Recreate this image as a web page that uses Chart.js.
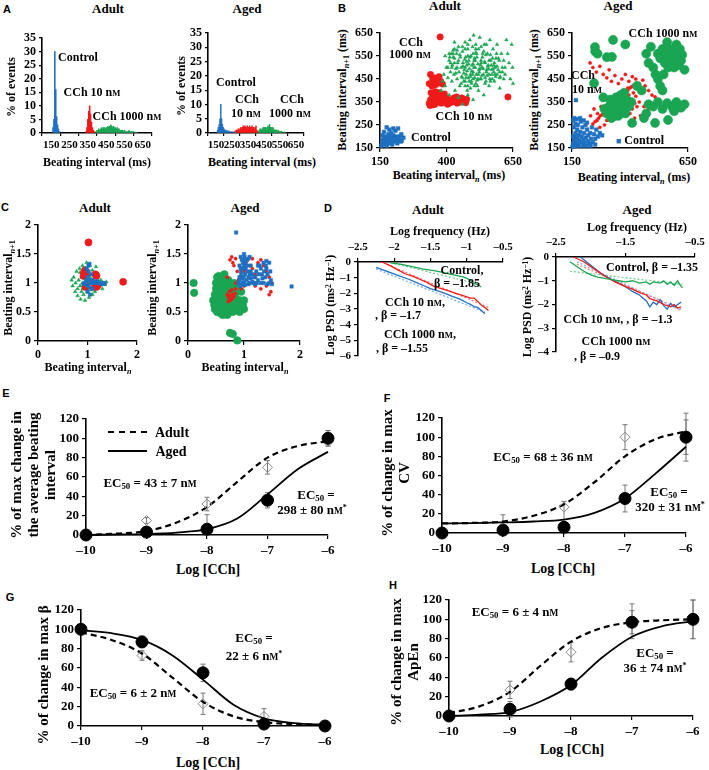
<!DOCTYPE html>
<html><head><meta charset="utf-8">
<script src="https://cdn.jsdelivr.net/npm/chart.js@4.4.0/dist/chart.umd.min.js"></script>
<style>
body{margin:0;background:#fff;}
#fig{position:relative;width:709px;height:770px;overflow:hidden;font-family:'Liberation Serif',serif;font-weight:bold;color:#000;}
canvas{position:absolute;}
.t{position:absolute;transform:translate(-50%,-50%);white-space:nowrap;line-height:1.1;text-align:center;}
.r{position:absolute;transform:translate(-50%,-50%) rotate(-90deg);white-space:nowrap;line-height:1.12;text-align:center;}
.L{position:absolute;font-family:'Liberation Sans',Arial,sans-serif;font-weight:bold;font-size:11px;transform:translate(-50%,-50%);}
.sc{font-size:0.72em;}
sub{font-size:0.68em;vertical-align:-0.28em;line-height:0;}
sup{font-size:0.62em;vertical-align:0.5em;line-height:0;}
i{font-style:italic;}
</style></head>
<body><div id="fig">
<!-- panel letters -->
<div class="L" style="left:7px;top:9px">A</div>
<div class="L" style="left:342px;top:8px">B</div>
<div class="L" style="left:5px;top:207px">C</div>
<div class="L" style="left:328px;top:208px">D</div>
<div class="L" style="left:6px;top:393px">E</div>
<div class="L" style="left:387px;top:398px">F</div>
<div class="L" style="left:10px;top:597px">G</div>
<div class="L" style="left:393px;top:585px">H</div>
<!-- titles -->
<div class="t" style="left:108px;top:9px;font-size:13px">Adult</div>
<div class="t" style="left:247px;top:9px;font-size:13px">Aged</div>
<div class="t" style="left:445px;top:6px;font-size:13px">Adult</div>
<div class="t" style="left:618px;top:6px;font-size:13px">Aged</div>
<div class="t" style="left:95px;top:208px;font-size:13px">Adult</div>
<div class="t" style="left:245px;top:208px;font-size:13px">Aged</div>
<div class="t" style="left:428px;top:210px;font-size:13px">Adult</div>
<div class="t" style="left:637px;top:210px;font-size:13px">Aged</div>
<!-- A -->
<div class="r" style="left:12px;top:87px;font-size:12px">% of events</div>
<div class="r" style="left:182px;top:86px;font-size:12px">% of events</div>
<div class="t" style="left:97px;top:163px;font-size:12px">Beating interval (ms)</div>
<div class="t" style="left:262px;top:163px;font-size:12px">Beating interval (ms)</div>
<div class="t" style="left:78px;top:58px;font-size:12px">Control</div>
<div class="t" style="left:92px;top:93px;font-size:12px">CCh 10 n<span class="sc">M</span></div>
<div class="t" style="left:127px;top:117px;font-size:12px">CCh 1000 n<span class="sc">M</span></div>
<div class="t" style="left:236px;top:83px;font-size:12px">Control</div>
<div class="t" style="left:247px;top:100px;font-size:12px">CCh</div>
<div class="t" style="left:246px;top:114px;font-size:12px">10 n<span class="sc">M</span></div>
<div class="t" style="left:292px;top:100px;font-size:12px">CCh</div>
<div class="t" style="left:290px;top:114px;font-size:12px">1000 n<span class="sc">M</span></div>
<!-- B -->
<div class="r" style="left:343px;top:90px;font-size:12px">Beating interval<sub><i>n</i>+1</sub> (ms)</div>
<div class="r" style="left:535px;top:90px;font-size:12px">Beating interval<sub><i>n</i>+1</sub> (ms)</div>
<div class="t" style="left:449px;top:176px;font-size:12px">Beating interval<sub><i>n</i></sub> (ms)</div>
<div class="t" style="left:634px;top:178px;font-size:12px">Beating interval<sub><i>n</i></sub> (ms)</div>
<div class="t" style="left:411px;top:43px;font-size:12px">CCh</div>
<div class="t" style="left:410px;top:55px;font-size:12px">1000 n<span class="sc">M</span></div>
<div class="t" style="left:464px;top:117px;font-size:12px">CCh 10 n<span class="sc">M</span></div>
<div class="t" style="left:431px;top:138px;font-size:12px">Control</div>
<div class="t" style="left:663px;top:34px;font-size:12px">CCh 1000 n<span class="sc">M</span></div>
<div class="t" style="left:583px;top:76px;font-size:12px">CCh</div>
<div class="t" style="left:587px;top:90px;font-size:12px">10 n<span class="sc">M</span></div>
<div class="t" style="left:640px;top:141px;font-size:12px"><span style="color:#1f70c1;font-size:9px">■</span> Control</div>
<!-- C -->
<div class="r" style="left:9px;top:288px;font-size:12px">Beating interval<sub><i>n</i>+1</sub></div>
<div class="r" style="left:153px;top:288px;font-size:12px">Beating interval<sub><i>n</i>+1</sub></div>
<div class="t" style="left:88px;top:368px;font-size:12px">Beating interval<sub><i>n</i></sub></div>
<div class="t" style="left:245px;top:368px;font-size:12px">Beating interval<sub><i>n</i></sub></div>
<!-- D -->
<div class="t" style="left:440px;top:232px;font-size:12px">Log frequency (Hz)</div>
<div class="t" style="left:637px;top:228px;font-size:12px">Log frequency (Hz)</div>
<div class="r" style="left:331px;top:305px;font-size:12px">Log PSD (ms<sup>2</sup> Hz<sup>−1</sup>)</div>
<div class="r" style="left:528px;top:307px;font-size:12px">Log PSD (ms<sup>2</sup> Hz<sup>−1</sup>)</div>
<div class="t" style="left:462px;top:271px;font-size:12px">Control,</div>
<div class="t" style="left:457px;top:284px;font-size:12px">β = –1.85</div>
<div class="t" style="left:415px;top:303px;font-size:12px">CCh 10 n<span class="sc">M</span>,</div>
<div class="t" style="left:398px;top:316px;font-size:12px">, β = –1.7</div>
<div class="t" style="left:420px;top:335px;font-size:12px">CCh 1000 n<span class="sc">M</span>,</div>
<div class="t" style="left:402px;top:349px;font-size:12px">, β = –1.55</div>
<div class="t" style="left:652px;top:268px;font-size:12px">Control, β = –1.35</div>
<div class="t" style="left:618px;top:320px;font-size:12px">CCh 10 n<span class="sc">M</span>, , β = –1.3</div>
<div class="t" style="left:616px;top:342px;font-size:12px">CCh 1000 n<span class="sc">M</span></div>
<div class="t" style="left:597px;top:357px;font-size:12px">, β = –0.9</div>
<!-- E -->
<div class="r" style="left:33px;top:475px;font-size:15px">% of max change in<br>the average beating<br>interval</div>
<div class="t" style="left:208px;top:570px;font-size:14px">Log [CCh]</div>
<div style="position:absolute;left:108px;top:431px;width:39px;border-top:2.5px dashed #000"></div>
<div style="position:absolute;left:108px;top:450px;width:39px;border-top:2px solid #000"></div>
<div class="t" style="left:172px;top:433px;font-size:14px">Adult</div>
<div class="t" style="left:171px;top:452px;font-size:14px">Aged</div>
<div class="t" style="left:150px;top:483px;font-size:13px">EC<sub>50</sub> = 43 ± 7 n<span class="sc">M</span></div>
<div class="t" style="left:316px;top:495px;font-size:13px">EC<sub>50</sub> =</div>
<div class="t" style="left:312px;top:510px;font-size:13px">298 ± 80 n<span class="sc">M</span><sup>*</sup></div>
<!-- F -->
<div class="r" style="left:396px;top:473px;font-size:15px">% of change in max<br>CV</div>
<div class="t" style="left:563px;top:569px;font-size:14px">Log [CCh]</div>
<div class="t" style="left:543px;top:457px;font-size:13px">EC<sub>50</sub> = 68 ± 36 n<span class="sc">M</span></div>
<div class="t" style="left:669px;top:492px;font-size:13px">EC<sub>50</sub> =</div>
<div class="t" style="left:670px;top:507px;font-size:13px">320 ± 31 n<span class="sc">M</span><sup>*</sup></div>
<!-- G -->
<div class="r" style="left:43px;top:675px;font-size:15px">% of change in max β</div>
<div class="t" style="left:208px;top:763px;font-size:14px">Log [CCh]</div>
<div class="t" style="left:254px;top:638px;font-size:13px">EC<sub>50</sub> =</div>
<div class="t" style="left:254px;top:656px;font-size:13px">22 ± 6 n<span class="sc">M</span><sup>*</sup></div>
<div class="t" style="left:133px;top:693px;font-size:13px">EC<sub>50</sub> = 6 ± 2 n<span class="sc">M</span></div>
<!-- H -->
<div class="r" style="left:405px;top:662px;font-size:15px">% of change in max<br>ApEn</div>
<div class="t" style="left:572px;top:750px;font-size:14px">Log [CCh]</div>
<div class="t" style="left:515px;top:612px;font-size:13px">EC<sub>50</sub> = 6 ± 4 n<span class="sc">M</span></div>
<div class="t" style="left:655px;top:653px;font-size:13px">EC<sub>50</sub> =</div>
<div class="t" style="left:655px;top:668px;font-size:13px">36 ± 74 n<span class="sc">M</span><sup>*</sup></div>
</div>
<script>
// ---------- DATA ----------
const BLUE='#1f70c1', RED='#f01a1a', GREEN='#1aa552', LBLUE='#8fb8e8';
// A: histograms (bin centre ms, % of events)
const aAdultCtrlX=[160,165,170,175,180,185,190,195];
const aAdultCtrlY=[2,5,30,16,6,3,1.5,0.5];
const aAdult10X=[340,345,350,355,360,365,370,375,380,385];
const aAdult10Y=[0.5,2,5,8,10,7,4,2,1,0.5];
const aAdult1000X=[395,400,405,410,415,420,425,430,435,440,445,450,455,460,465,470,475,480,485,490,495,500,505,510,515,520,525,530,535,540,545,550,555,560,565,570,575,580,585,590,595,600,610,620];
const aAdult1000Y=[0.5,1,1,1.5,1,1.5,2,1.5,2,2,1.5,2,2,2.5,2,2.5,3,2.5,2,2.5,2,2,1.5,2,1.5,1.5,1,1,1,1,0.5,1,0.5,0.5,0.5,0.5,1,0.5,0.5,0.5,0.5,0.5,0.3,0.3];
const aAgedCtrlX=[160,165,170,175,180,185,190,195,200,205,210,215,220,225,230,240,250,260,270];
const aAgedCtrlY=[1,2,3,5,10,5,3,2,1.5,1,1,0.8,0.8,0.5,0.8,0.5,0.5,0.3,0.3];
const aAged10X=[265,270,275,280,285,290,295,300,305,310,315,320,325,330,335,340,345,350,355,360,365,370,375,380,385,390,395,400,405,410];
const aAged10Y=[0.5,0.5,1,1,1,1.5,1,1.5,2,1.5,2,2.5,2,2.5,2,2,2.5,2,2,2.5,2,2,2.5,2,2,1.5,2,2.5,1,0.5];
const aAged1000X=[415,420,425,430,435,440,445,450,455,460,465,470,475,480,485,490,495,500,505,510,515,520,525,530,535,540,545,550,555,560,570,580];
const aAged1000Y=[0.5,1,1.5,1.5,1,1.5,2,1.5,2,2,1.5,2,2.5,2,3,2,2,1.5,2,1.5,1,1,1,1,0.5,1,0.5,0.5,0.5,0.5,0.3,0.3];
// B: Poincaré plots (x=interval n, y=interval n+1), flat x,y lists
const bAdultCtrl=[155,160,158,175,160,185,162,170,165,180,166,195,168,165,170,175,170,190,172,182,174,200,175,170,176,160,178,185,180,178,180,195,182,210,184,170,186,188,188,200,190,180,192,215,195,190,198,175,200,205,203,185,205,195,208,225,210,180,212,200,215,190,218,235,220,185,225,200,228,178,232,182,238,195,185,230,175,240,165,220,160,205,200,235,196,165,215,170,230,210];
const bAdult10=[376,633,631,372,335,345,340,360,345,350,348,372,352,385,356,340,360,362,364,378,368,350,372,390,376,360,380,345,384,372,388,355,392,385,396,348,400,365,342,390,358,395,404,340,338,335,350,338,345,420,350,440,355,455,358,425,362,445,368,432,372,460,378,440,385,428,348,452,340,470,335,430,415,360,422,350,428,368,435,355,440,345,446,362,452,350,458,368,465,355,472,347,476,362,438,372,410,345];
const bAdult1000=[380,400,385,440,390,470,395,420,400,500,405,455,410,380,410,530,415,480,418,560,420,440,422,510,425,575,428,470,430,540,432,400,435,495,438,560,440,450,442,520,445,590,447,480,450,420,452,545,455,500,457,460,460,570,462,520,465,440,467,490,470,610,472,545,474,470,476,510,478,400,480,580,482,455,484,530,486,495,488,620,490,470,492,550,494,430,496,510,498,590,500,480,502,640,504,530,506,455,508,500,510,600,512,470,514,545,516,420,518,515,520,580,522,490,525,630,527,450,530,530,533,500,536,560,539,470,542,600,545,520,548,440,551,490,554,560,557,510,560,470,563,620,566,530,569,490,572,450,575,580,578,510,582,470,586,540,590,600,594,490,598,530,602,460,606,560,610,500,615,530,620,470,625,620,630,560,635,520,640,450,645,600,648,500,650,430,460,340,500,360,540,380,480,380,445,370,405,500,395,550,430,610,520,400,560,420,600,410,
455,430,460,455,465,475,470,500,475,525,480,550,485,440,490,460,495,485,500,515,505,540,510,565,515,445,520,470,525,495,530,520,535,545,540,570,545,455,550,480,555,505,560,530,565,555,570,470,575,495,580,520,585,460,590,505,595,540,600,480,462,505,468,535,473,455,478,485,483,515,488,545,493,440,498,470,503,500,508,530,513,560,518,450,523,480,528,510,533,465,538,495,543,525,548,555,553,465,558,495,563,450,568,510,573,540,578,480,583,500,588,560,440,500,445,530,450,555,435,475,430,520,425,545,420,500,415,520,410,560,412,545,425,560,430,580,440,575,460,590,470,580,480,600,500,560,510,580,530,590,550,600,500,450,510,430,530,450,545,430,565,440,580,440,600,455,610,480,620,500,615,450,590,470,470,420,480,420,490,410,505,420,470,440];
const bAgedCtrl=[152,155,155,170,158,160,160,185,162,200,165,175,165,215,168,160,170,190,172,230,175,170,175,250,178,205,180,160,182,185,185,220,188,265,190,175,192,200,195,240,198,160,200,185,202,215,205,170,208,250,210,195,212,160,215,230,218,180,220,205,225,170,228,215,232,190,236,240,240,175,245,210,250,190,255,230,262,200,270,215,280,205,158,240,155,270,160,280,170,275,165,255,185,280,200,270,215,260,167,358,230,160,250,165,155,200];
const bAged10=[240,255,250,265,258,270,265,280,272,290,280,295,288,305,295,300,300,315,308,320,315,330,322,340,330,345,338,355,345,360,352,370,360,375,368,385,375,390,382,395,390,400,398,410,405,415,412,420,420,415,350,320,360,330,370,318,380,340,390,325,400,335,410,320,420,345,355,350,365,365,375,355,385,370,395,380,405,360,415,390,425,375,370,400,390,410,345,335,400,300,380,305,430,330,440,350,228,520,240,500,255,480,270,505,285,470,300,455,310,490,320,440,335,465,350,430,365,450,380,470,395,440,410,460,425,450,440,430,455,445,465,420,480,400,495,380,508,372,478,315,460,330,445,290,420,280,300,270,290,250,270,240,320,280,260,300,230,290,245,320,275,330];
const bAged1000=[520,560,530,540,540,580,550,520,555,560,560,590,565,500,570,545,575,575,580,520,585,555,590,500,595,585,600,540,605,565,610,510,615,580,620,530,625,555,635,490,500,500,510,470,520,450,530,420,540,400,545,470,480,520,470,560,490,590,600,600,560,610,300,300,310,330,320,280,325,350,330,310,340,370,345,330,350,290,355,350,360,380,365,320,370,345,380,300,385,360,395,330,405,350,315,360,335,290,375,390,290,320,249,589,327,620,322,546,250,570,260,560,245,432,300,545,380,600,480,340,500,330,520,350,540,320,560,345,580,330,600,350,620,325,635,340,590,310,409,259,508,259,564,272,460,280,430,420,450,400,285,370,470,300];
// C: normalised Poincaré plots
const cAdultCtrl=[0.95,1.0,0.97,1.05,1.0,1.1,1.0,0.95,1.02,1.2,1.02,1.3,1.03,1.0,1.05,1.05,1.05,0.92,1.07,1.15,1.08,1.0,1.1,1.05,1.12,1.0,1.15,1.02,1.18,1.0,1.2,1.03,1.25,1.0,1.28,0.98,1.32,1.0,1.35,0.99,0.98,1.25,1.04,1.33,0.92,0.98,1.0,0.85,1.05,0.8,1.1,0.9];
const cAdult10=[1.02,1.7,1.72,1.02,0.93,1.18,0.95,1.22,0.97,1.15,0.92,1.12,1.16,1.15,1.18,1.12,1.15,0.97,1.17,0.93,1.2,0.95,0.96,0.93,0.98,0.97];
const cAdult1000=[0.68,1.05,0.7,0.95,0.72,1.1,0.75,0.85,0.76,1.0,0.78,1.2,0.8,0.9,0.8,0.78,0.82,1.05,0.84,1.25,0.85,0.95,0.86,0.72,0.88,1.1,0.88,0.85,0.9,1.3,0.9,1.0,0.92,0.8,0.93,1.15,0.95,0.92,0.95,0.7,0.97,1.05,0.98,1.35,1.0,0.85,1.0,1.2,1.02,0.95,1.03,0.75,1.05,1.1,1.05,1.3,1.07,0.88,1.08,1.0,1.1,1.22,1.1,0.8,1.12,0.95,1.14,1.1,1.15,0.85,1.17,1.28,1.18,1.0,1.2,0.9,1.22,1.15,1.25,0.95,1.27,1.05,1.3,0.9,1.32,1.0,1.35,0.97,1.38,1.02,0.85,1.18,0.95,1.25,1.0,1.05,1.12,1.05,0.9,0.9];
const cAgedCtrl=[0.86,1.87,1.85,0.94,0.9,1.0,0.92,1.1,0.92,1.3,0.94,1.45,0.95,1.2,0.97,1.0,0.98,1.35,1.0,1.5,1.0,1.1,1.02,0.97,1.03,1.25,1.05,1.4,1.05,1.05,1.08,0.98,1.1,1.15,1.12,1.3,1.15,1.02,1.18,1.1,1.2,0.98,1.22,1.2,1.25,1.05,1.28,1.3,1.3,1.0,1.32,1.15,1.35,1.35,1.38,1.1,1.4,1.25,1.42,0.98,1.45,1.35,1.48,1.05,1.5,0.98,0.96,0.96,1.0,1.3,1.1,1.45,0.93,0.95,1.35,1.0,
0.92,1.05,0.95,1.15,0.97,1.25,0.99,1.4,1.01,1.45,1.03,1.35,1.06,1.2,1.08,1.1,1.1,1.0,1.12,1.08,1.15,1.15,1.17,1.0,1.2,1.1,1.23,1.0,1.26,1.15,1.3,1.25,1.33,1.08,1.36,1.2,1.39,1.3,1.42,1.15,1.45,1.0,1.0,1.02,0.98,1.08,0.94,1.25,0.96,1.4,1.02,1.15,1.05,1.3,1.08,1.42,1.12,1.2,1.25,1.3,1.4,1.38,1.47,1.2];
const cAged10=[0.7,0.8,0.72,0.75,0.74,0.85,0.76,0.78,0.78,0.72,0.8,0.8,0.82,0.76,0.84,0.82,0.78,0.88,0.75,0.7,0.72,0.68,0.85,0.9,0.75,1.4,0.78,1.45,0.8,1.35,0.82,1.3,0.85,1.42,0.88,1.2,0.9,1.05,0.95,1.1,1.0,1.2,1.05,1.38,1.1,1.3,1.15,1.25,1.2,1.15,1.25,1.35,1.3,1.4,1.35,1.3,1.4,1.2,1.45,1.1,1.5,1.0,1.48,0.85,1.4,0.95,1.3,0.9,1.2,0.95,1.1,1.0,1.0,0.95,0.95,0.9,1.45,0.8,0.85,1.0,0.7,1.1,1.15,1.42];
const cAged1000=[0.1,1.0,0.11,0.83,0.75,0.14,0.8,0.12,0.88,0.01,0.45,0.7,0.48,0.55,0.5,0.9,0.52,1.1,0.55,0.6,0.55,0.8,0.58,0.48,0.6,1.0,0.6,0.65,0.63,0.75,0.65,0.5,0.65,1.15,0.68,0.9,0.7,0.6,0.72,1.05,0.75,0.7,0.75,0.5,0.78,0.85,0.8,0.62,0.82,1.0,0.85,0.55,0.85,0.75,0.88,0.95,0.9,0.65,0.92,0.5,0.95,0.85,0.98,0.62,0.5,1.0,0.55,1.12,0.62,0.45,0.7,0.45,0.8,0.5,1.0,0.7,1.0,0.55,0.58,0.95,0.67,0.98,0.48,0.8,0.72,0.8,
0.47,0.62,0.5,0.75,0.53,0.95,0.55,1.05,0.57,0.55,0.6,0.85,0.62,0.58,0.64,1.08,0.66,0.7,0.68,0.5,0.7,0.95,0.73,0.6,0.77,0.95,0.8,0.7,0.83,0.62,0.87,0.85,0.9,0.55,0.93,0.7,0.96,0.62,0.58,0.7,0.52,0.5,0.62,0.9];
// D: log PSD vs log frequency
const dAdultCtrl=[-2.05,-0.05,-1.9,-0.15,-1.75,-0.3,-1.6,-0.45,-1.45,-0.55,-1.35,-0.65,-1.25,-0.75,-1.15,-0.85,-1.05,-0.95,-1.0,-1.05,-0.95,-1.15,-0.9,-1.35,-0.85,-1.45,-0.8,-1.6];
const dAdultCtrlFit=[-2.0,-0.1,-0.85,-1.4];
const dAdult10=[-2.17,0,-2.05,-0.25,-1.95,-0.5,-1.85,-0.75,-1.75,-0.9,-1.65,-1.1,-1.55,-1.3,-1.45,-1.55,-1.35,-1.7,-1.25,-1.85,-1.15,-2.0,-1.05,-2.15,-0.95,-2.3,-0.9,-2.3,-0.85,-2.5,-0.8,-2.75,-0.75,-2.9,-0.7,-3.1];
const dAdult10Fit=[-2.1,-0.15,-0.7,-2.9];
const dAdult1000=[-2.25,-0.35,-2.1,-0.6,-1.95,-0.85,-1.8,-1.1,-1.7,-1.3,-1.6,-1.5,-1.5,-1.7,-1.4,-1.85,-1.3,-2.0,-1.2,-2.2,-1.1,-2.35,-1.0,-2.6,-0.95,-2.7,-0.9,-2.85,-0.85,-2.9,-0.8,-3.1,-0.75,-3.3];
const dAdult1000Fit=[-2.25,-0.45,-0.75,-3.2];
const dAgedCtrl=[-2.3,-0.2,-2.2,-0.4,-2.1,-0.6,-2.0,-0.75,-1.9,-0.85,-1.8,-0.9,-1.7,-0.95,-1.6,-1.0,-1.5,-1.05,-1.4,-1.0,-1.3,-1.1,-1.2,-1.05,-1.15,-1.15,-1.1,-1.05,-1.0,-1.1,-0.95,-1.0,-0.9,-1.15,-0.85,-1.05,-0.8,-1.2,-0.75,-1.0,-0.72,-1.15,-0.68,-1.3];
const dAgedCtrlFit=[-2.3,-0.6,-0.68,-1.15];
const dAged10=[-2.25,0,-2.1,-0.2,-1.95,-0.5,-1.8,-0.8,-1.65,-1.05,-1.5,-1.25,-1.4,-1.35,-1.3,-1.5,-1.2,-1.6,-1.15,-1.75,-1.05,-1.85,-0.95,-2.0,-0.9,-2.05,-0.85,-2.1,-0.8,-2.0,-0.75,-2.15,-0.7,-2.1];
const dAged10Fit=[-2.2,-0.3,-0.7,-2.2];
const dAged1000=[-2.15,0,-2.0,-0.35,-1.85,-0.7,-1.7,-0.95,-1.6,-1.1,-1.5,-1.25,-1.4,-1.45,-1.3,-1.6,-1.2,-1.85,-1.15,-2.1,-1.1,-1.9,-1.05,-2.0,-1.0,-1.8,-0.95,-2.05,-0.9,-2.2,-0.85,-1.95,-0.8,-2.1,-0.75,-2.0,-0.7,-1.9];
const dAged1000Fit=[-2.2,-0.2,-0.7,-2.25];
// E-H: concentration-response
const logC=[-10,-9,-8,-7,-6];
const curveX=[-10,-9.5,-9,-8.5,-8,-7.5,-7,-6.5,-6];
const eAdultCurve=[0,1.5,4,13,29,55,80,92,97];
const eAgedCurve=[0,0.5,1,2.5,6,17,42,68,86];
const eAdultPts=[0,15,32,70,100], eAdultErr=[[0,0],[3,3],[7,7],[7,7],[8,8]];
const eAgedPts=[0,3,6,36,100], eAgedErr=[[0,0],[2,2],[0,15],[8,8],[8,8]];
const fAdultCurve=[10,10.5,12,18,30,53,80,98,106];
const fAgedCurve=[10,10.3,11,12,14,21,36,62,90];
const fAdultPts=[0,4,27,100,100], fAdultErr=[[0,0],[4,15],[27,6],[13,13],[18,18]];
const fAgedPts=[0,3,6,36,100], fAgedErr=[[0,0],[2,2],[2,2],[14,14],[25,25]];
const gAdultCurve=[97,89,75,50,25,10,4,2,1];
const gAgedCurve=[99,96,89,73,48,22,8,3,1];
const gAdultPts=[100,73,23,10,1], gAdultErr=[[0,0],[5,5],[11,11],[8,8],[1,4]];
const gAgedPts=[100,87,55,2,0], gAgedErr=[[0,0],[6,6],[9,9],[2,2],[0,4]];
const hAdultCurve=[3,10,25,52,77,91,97,99,100];
const hAgedCurve=[0,1.5,4,15,32,60,82,93,98];
const hAdultPts=[0,27,66,98,100], hAdultErr=[[0,0],[9,9],[10,10],[18,18],[20,20]];
const hAgedPts=[0,7,33,97,100], hAgedErr=[[0,0],[8,8],[6,6],[12,12],[20,20]];

// ---------- HELPERS ----------
Chart.defaults.font.family="'Liberation Serif', serif";
Chart.defaults.font.weight='bold';
Chart.defaults.color='#000';
Chart.defaults.animation=false;
const fig=document.getElementById('fig');
const pairs=a=>{const o=[];for(let i=0;i<a.length;i+=2)o.push({x:a[i],y:a[i+1]});return o;};
const xy=(xs,ys)=>xs.map((x,i)=>({x:x,y:ys[i]}));
const fmt=v=>String(Math.round(v*100)/100).replace('-','–');

Chart.register({
  id:'errorBars',
  beforeDatasetsDraw(chart){
    const ctx=chart.ctx, xs=chart.scales.x, ys=chart.scales.y;
    chart.data.datasets.forEach(ds=>{
      if(!ds.errors)return;
      ctx.save();ctx.strokeStyle='#777';ctx.lineWidth=1;
      ds.data.forEach((p,j)=>{
        const e=ds.errors[j]; if(!e||(!e[0]&&!e[1]))return;
        const px=xs.getPixelForValue(p.x);
        const t=ys.getPixelForValue(p.y+e[1]), b=ys.getPixelForValue(p.y-e[0]);
        ctx.beginPath();ctx.moveTo(px,t);ctx.lineTo(px,b);
        ctx.moveTo(px-2.5,t);ctx.lineTo(px+2.5,t);ctx.moveTo(px-2.5,b);ctx.lineTo(px+2.5,b);ctx.stroke();
      });
      ctx.restore();
    });
  }
});

function mk(plot,m,xTop,type,datasets,xo,yo){
  const [L,T,R,B]=plot,[ml,mt,mr,mb]=m;
  const W=R-L+ml+mr,H=B-T+mt+mb;
  const c=document.createElement('canvas');
  c.width=W;c.height=H;
  Object.assign(c.style,{left:(L-ml)+'px',top:(T-mt)+'px',width:W+'px',height:H+'px'});
  fig.insertBefore(c,fig.firstChild);
  const sc=(o,isX)=>({
    type:'linear',position:isX?(xTop?'top':'bottom'):'left',min:o.min,max:o.max,
    grid:{display:true,drawOnChartArea:false,drawTicks:true,tickLength:o.tl||4,color:'#000',lineWidth:1.2},
    border:{display:true,color:'#000',width:1.6},
    ticks:{stepSize:o.step,font:{size:o.fs||12,weight:'bold'},color:'#000',padding:o.pad||3,autoSkip:false,maxRotation:0,callback:fmt},
    afterFit(s){ if(isX){s.height=xTop?mt:mb;s.paddingLeft=0;s.paddingRight=0;} else {s.width=ml;s.paddingTop=0;s.paddingBottom=0;} }
  });
  datasets.forEach(d=>{d.clip=false;});
  return new Chart(c,{type:type,data:{datasets:datasets},options:{
    responsive:false,animation:false,events:[],
    layout:{padding:{left:0,right:mr,top:xTop?0:mt,bottom:xTop?mb:0}},
    plugins:{legend:{display:false},tooltip:{enabled:false}},
    scales:{x:sc(xo,true),y:sc(yo,false)}
  }});
}
const bar=(x,y,col)=>({data:xy(x,y),backgroundColor:col,grouped:false,barPercentage:1,categoryPercentage:1,borderWidth:0});
const pts=(a,col,style,r)=>({data:pairs(a),pointStyle:style,pointRadius:r,backgroundColor:col,borderColor:col,borderWidth:0.5,showLine:false});
const ln=(a,col,w,dash)=>({data:pairs(a),borderColor:col,borderWidth:w,borderDash:dash||[],pointRadius:0,showLine:true,fill:false});

// ---------- A ----------
mk([42,38,152,133],[28,8,14,20],false,'bar',
  [bar(aAdultCtrlX,aAdultCtrlY,BLUE),bar(aAdult10X,aAdult10Y,RED),bar(aAdult1000X,aAdult1000Y,GREEN)],
  {min:150,max:650,step:100,fs:11,tl:3},{min:0,max:35,step:5,fs:12,tl:3});
mk([208,33,304,133],[30,8,14,20],false,'bar',
  [bar(aAgedCtrlX,aAgedCtrlY,BLUE),bar(aAged10X,aAged10Y,RED),bar(aAged1000X,aAged1000Y,GREEN)],
  {min:150,max:650,step:100,fs:11,tl:3},{min:0,max:35,step:5,fs:12,tl:3});
// ---------- B ----------
mk([380,33,513,148],[28,8,14,20],false,'scatter',
  [pts(bAdult1000,GREEN,'triangle',2),pts(bAdult10,RED,'circle',3.2),pts(bAdultCtrl,BLUE,'rect',2.6)],
  {min:150,max:650,step:200,fs:12},{min:150,max:650,step:100,fs:12});
mk([572,33,688,148],[28,8,14,20],false,'scatter',
  [pts(bAged1000,GREEN,'circle',4.6),pts(bAged10,RED,'circle',1.6),pts(bAgedCtrl,BLUE,'rect',2.6)],
  {min:150,max:650,step:500,fs:12},{min:150,max:650,step:100,fs:12});
// ---------- C ----------
mk([38,225,137,341],[24,8,12,20],false,'scatter',
  [pts(cAdultCtrl,BLUE,'rect',2.4),pts(cAdult10,RED,'circle',3.6),pts(cAdult1000,GREEN,'triangle',2.1)],
  {min:0,max:2,step:1,fs:12},{min:0,max:2,step:0.5,fs:12});
mk([188,225,300,341],[24,8,12,20],false,'scatter',
  [pts(cAgedCtrl,BLUE,'rect',2.4),pts(cAged10,RED,'circle',1.6),pts(cAged1000,GREEN,'circle',3.8)],
  {min:0,max:2,step:1,fs:12},{min:0,max:2,step:0.5,fs:12});
// ---------- D ----------
mk([358,262,503,356],[22,20,12,6],true,'scatter',
  [ln(dAdultCtrl,GREEN,1.3),ln(dAdult10,RED,1.3),ln(dAdult1000,BLUE,1.3),
   ln(dAdultCtrlFit,'#6bc88f',1.2,[2,2]),ln(dAdult10Fit,'#f07a7a',1.2,[2,2]),ln(dAdult1000Fit,LBLUE,1.5,[2,2])],
  {min:-2.5,max:-0.5,step:0.5,fs:11,pad:4},{min:-6,max:0,step:1,fs:11});
mk([556,257,695,352],[22,20,12,6],true,'scatter',
  [ln(dAgedCtrl,GREEN,1.3),ln(dAged10,RED,1.3),ln(dAged1000,BLUE,1.3),
   ln(dAgedCtrlFit,'#6bc88f',1.2,[2,2]),ln(dAged10Fit,'#f07a7a',1.2,[2,2]),ln(dAged1000Fit,LBLUE,1.5,[2,2])],
  {min:-2.5,max:-0.5,step:1,fs:11,pad:4},{min:-4,max:0,step:1,fs:11});
// ---------- E-H ----------
function dr(plot,m,adC,agC,adP,adE,agP,agE){
  mk(plot,m,false,'scatter',[
    {data:xy(logC,agP),errors:agE,pointStyle:'circle',pointRadius:6,backgroundColor:'#000',borderColor:'#000',showLine:false},
    {data:xy(logC,adP),errors:adE,pointStyle:'rectRot',pointRadius:5,backgroundColor:'rgba(255,255,255,0)',borderColor:'#8a8a8a',borderWidth:1,showLine:false},
    {data:xy(curveX,agC),showLine:true,borderColor:'#000',borderWidth:1.8,pointRadius:0,cubicInterpolationMode:'monotone'},
    {data:xy(curveX,adC),showLine:true,borderColor:'#000',borderWidth:2.2,borderDash:[6,4],pointRadius:0,cubicInterpolationMode:'monotone'}
  ],{min:-10,max:-6,step:1,fs:13,pad:4},{min:0,max:120,step:20,fs:13,pad:3});
}
dr([86,419,328,535],[40,10,20,24],eAdultCurve,eAgedCurve,eAdultPts,eAdultErr,eAgedPts,eAgedErr);
dr([442,418,686,533],[40,10,20,24],fAdultCurve,fAgedCurve,fAdultPts,fAdultErr,fAgedPts,fAgedErr);
dr([81,610,325,726],[40,10,20,24],gAdultCurve,gAgedCurve,gAdultPts,gAdultErr,gAgedPts,gAgedErr);
dr([449,600,693,716],[40,10,14,24],hAdultCurve,hAgedCurve,hAdultPts,hAdultErr,hAgedPts,hAgedErr);
</script>
</body></html>
